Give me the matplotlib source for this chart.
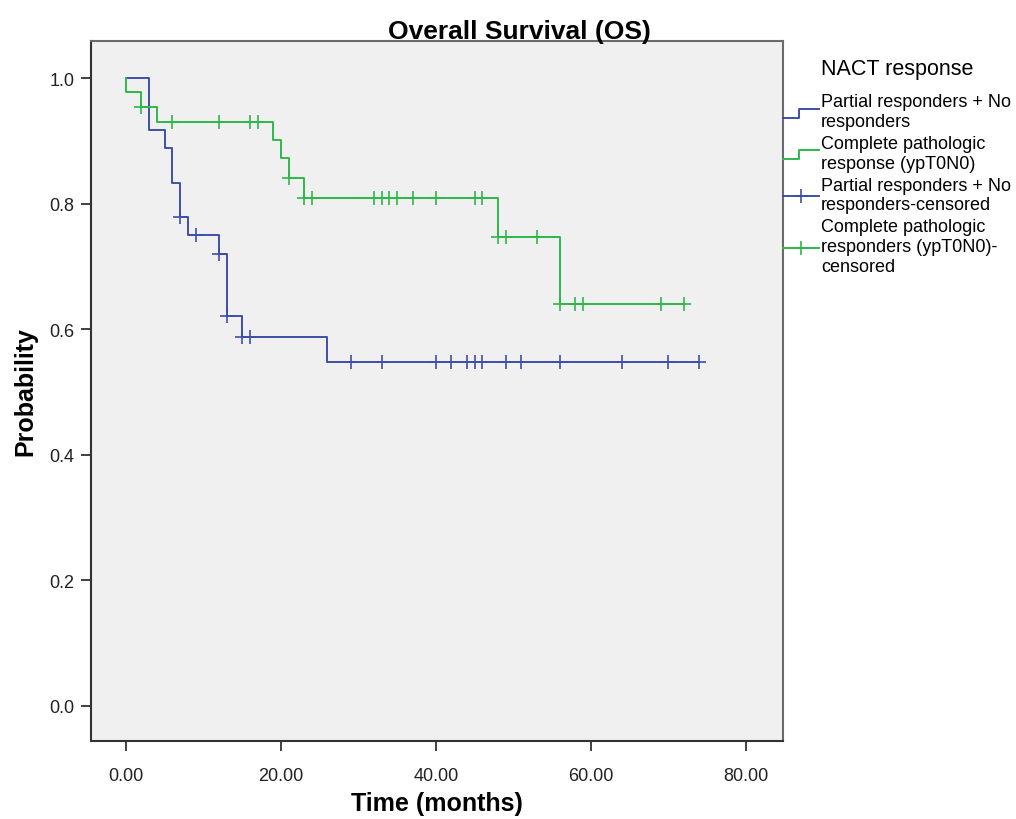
#!/usr/bin/env python

import matplotlib

matplotlib.use("Agg")
import numpy
from matplotlib import pyplot, ticker
from matplotlib.legend_handler import HandlerBase
from matplotlib.lines import Line2D

# Kaplan-Meier steps (time in months, survival after the step)
pr_time = [0, 3, 5, 6, 7, 8, 12, 13, 15, 26]
pr_surv = [1.0, 0.917, 0.889, 0.833, 0.778, 0.750, 0.720, 0.621, 0.588, 0.548]
pr_cens = [7, 9, 12, 13, 15, 16, 29, 33, 40, 42, 44, 45, 46, 49, 51, 56, 64, 70, 74]

cr_time = [0, 0, 2, 4, 19, 20, 21, 23, 48, 56]
cr_surv = [1.0, 0.977, 0.954, 0.930, 0.902, 0.872, 0.841, 0.809, 0.747, 0.640]
cr_cens = [2, 6, 12, 16, 17, 21, 23, 24, 32, 33, 34, 35, 37, 40, 45, 46, 48, 49,
           53, 56, 58, 59, 69, 72]

labels = [
    "Partial responders + No\nresponders",
    "Complete pathologic\nresponse (ypT0N0)",
    "Partial responders + No\nresponders-censored",
    "Complete pathologic\nresponders (ypT0N0)-\ncensored",
]

x_ticks = [0, 20, 40, 60, 80]
y_ticks = [0.0, 0.2, 0.4, 0.6, 0.8, 1.0]

BLUE = "#3e4fa8"
GREEN = "#2eb84a"


def surv_at(t, s, c):
    idx = numpy.searchsorted(t, c, side="right") - 1
    return numpy.array(s)[idx]


class HandlerStep(HandlerBase):
    def create_artists(self, legend, orig, xd, yd, w, h, fs, trans):
        lo = -yd + h * 0.05
        hi = -yd + h * 0.75
        xs = [-xd, -xd + w * 0.45, -xd + w * 0.45, -xd + w]
        ys = [lo, lo, hi, hi]
        ln = Line2D(xs, ys, color=orig.get_color(), lw=orig.get_linewidth())
        ln.set_transform(trans)
        return [ln]


class HandlerCens(HandlerBase):
    def create_artists(self, legend, orig, xd, yd, w, h, fs, trans):
        y = -yd + h * 0.4
        ln = Line2D([-xd, -xd + w], [y, y], color=orig.get_color(), lw=orig.get_linewidth())
        mk = Line2D([-xd + w * 0.5], [y], color=orig.get_color(), marker="+",
                    ms=orig.get_markersize(), mew=orig.get_markeredgewidth(), ls="none")
        ln.set_transform(trans)
        mk.set_transform(trans)
        return [ln, mk]


def plot():
    pyplot.rcParams["font.family"] = ["Liberation Sans", "DejaVu Sans"]
    fig = pyplot.figure(figsize=(10.16, 8.2), dpi=100)
    ax = fig.add_axes([0.0896, 0.0951, 0.6811, 0.8537])
    ax.set_facecolor("#f0f0f0")

    for t, s, c, col in [(pr_time, pr_surv, pr_cens, BLUE), (cr_time, cr_surv, cr_cens, GREEN)]:
        tt = list(t) + [max(c)]
        ss = list(s) + [s[-1]]
        ax.step(tt, ss, where="post", color=col, lw=1.4)
        ax.plot(c, surv_at(t, s, c), ls="none", marker="+", ms=10, mew=1.2, color=col)

    ax.set_xlim(-4.5, 84.8)
    ax.set_ylim(-0.056, 1.059)
    ax.set_xticks(x_ticks)
    ax.set_yticks(y_ticks)
    ax.xaxis.set_major_formatter(ticker.FormatStrFormatter("%.2f"))
    ax.yaxis.set_major_formatter(ticker.FormatStrFormatter("%.1f"))
    ax.tick_params(direction="out", length=7, width=1.3, colors="#333333",
                   labelsize=13, labelcolor="#222222", pad=5)
    ax.tick_params(axis="x", pad=12)
    for side in ["left", "bottom"]:
        ax.spines[side].set_color("#333333")
        ax.spines[side].set_linewidth(1.5)
    for side in ["top", "right"]:
        ax.spines[side].set_color("#6a6a6a")
        ax.spines[side].set_linewidth(1.5)

    ax.set_xlabel("Time (months)", fontsize=18, fontweight="bold")
    ax.set_ylabel("Probability", fontsize=18, fontweight="bold")
    ax.xaxis.set_label_coords(0.5, -0.071)
    ax.yaxis.set_label_coords(-0.078, 0.5)

    fig.text(519 / 1016, 1 - 32 / 820, "Overall Survival (OS)", ha="center", va="center",
             fontsize=19, fontweight="bold")

    h1 = Line2D([], [], color=BLUE, lw=1.4)
    h2 = Line2D([], [], color=GREEN, lw=1.4)
    h3 = Line2D([], [], color=BLUE, lw=1.4, marker="+", ms=10, mew=1.2)
    h4 = Line2D([], [], color=GREEN, lw=1.4, marker="+", ms=10, mew=1.2)
    leg = ax.legend(
        [h1, h2, h3, h4], labels,
        handler_map={h1: HandlerStep(), h2: HandlerStep(),
                     h3: HandlerCens(), h4: HandlerCens()},
        loc="upper left", bbox_to_anchor=(1.0, 0.975), frameon=False,
        fontsize=13, title="NACT response", title_fontsize=15.5,
        borderpad=0, borderaxespad=0, handlelength=2.0, handletextpad=0.1,
        labelspacing=0.28,
    )
    for txt in leg.get_texts():
        txt.set_linespacing(1.2)
    leg._legend_box.sep = 10

    fig.savefig("out.png", dpi=100)


plot()
